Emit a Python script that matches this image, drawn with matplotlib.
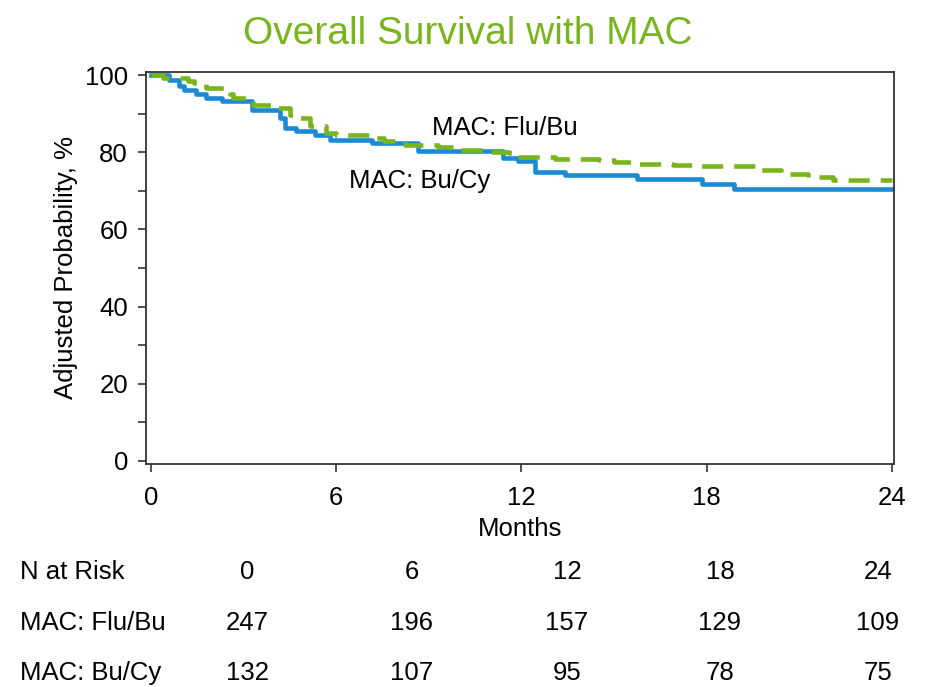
import numpy as np
import matplotlib.pyplot as plt

plt.rcParams['font.family'] = ['Liberation Sans', 'DejaVu Sans']

# step curves (months, adjusted probability %)
t_flubu = [0, 0.39, 1.2, 1.4, 1.78, 2.56, 2.66, 3.3, 3.92, 4.5, 4.76, 5.15, 5.67, 6.0,
           7.25, 7.55, 8.23, 9.3, 9.85, 10.9, 11.6, 11.85, 13.1, 14.5, 15.0, 15.8,
           16.9, 17.6, 19.56, 20.4, 21.3, 22.1, 24.0]
s_flubu = [100, 99.2, 98.4, 97.9, 96.6, 95.1, 94.0, 92.2, 91.5, 89.6, 88.9, 86.8, 85.0, 84.5,
           83.6, 83.0, 81.9, 81.4, 80.6, 80.0, 79.7, 78.8, 78.4, 78.0, 77.5, 76.9,
           76.7, 76.4, 75.4, 74.5, 73.6, 72.9, 72.9]

t_bucy = [0, 0.6, 0.9, 1.07, 1.46, 1.78, 2.3, 3.27, 4.18, 4.34, 4.7, 5.3, 5.8, 7.16,
          8.65, 11.4, 11.9, 12.44, 13.4, 15.74, 17.85, 18.9, 24.0]
s_bucy = [100, 98.7, 97.2, 96.1, 95.1, 94.0, 93.3, 90.9, 88.9, 86.3, 85.5, 84.5, 83.2, 82.4,
          80.3, 78.5, 77.7, 74.9, 74.1, 73.2, 71.9, 70.4, 70.4]

risk_times = ['0', '6', '12', '18', '24']
risk_flubu = [247, 196, 157, 129, 109]
risk_bucy = [132, 107, 95, 78, 75]

blue = '#1a8ad4'
green = '#78b41c'

fig = plt.figure(figsize=(9.25, 6.87), dpi=100)
ax = fig.add_axes([0.1578, 0.3246, 0.8086, 0.571])

ax.step(t_bucy, s_bucy, where='post', color=blue, lw=3.3)
ax.step(t_flubu, s_flubu, where='post', color=green, lw=3.3, dashes=(4.6, 2.4))

ax.text(11.47, 86.3, 'MAC: Flu/Bu', fontsize=18.5, ha='center', va='center')
ax.text(8.71, 72.6, 'MAC: Bu/Cy', fontsize=18.5, ha='center', va='center')

ax.set_xlim(-0.16, 24.07)
ax.set_ylim(-0.8, 100.9)
ax.set_xticks([0, 6, 12, 18, 24])
ax.set_yticks([0, 20, 40, 60, 80, 100])
ax.set_yticks([10, 30, 50, 70, 90], minor=True)
ax.tick_params(axis='both', which='both', direction='out', length=6, width=1.2,
               color='#333333', labelsize=18.5)
ax.tick_params(axis='x', pad=10)
ax.tick_params(axis='y', pad=7)
for sp in ax.spines.values():
    sp.set_color('#333333')
    sp.set_linewidth(1.3)

ax.set_xlabel('Months', fontsize=18.5, labelpad=5)
ax.set_ylabel('Adjusted Probability, %', fontsize=18.5, labelpad=5)

fig.text(0.506, 0.951, 'Overall Survival with MAC', fontsize=28, color=green,
         ha='center', va='center')

# numbers at risk table
col_x = [247, 412, 567, 720, 878]
row_y = [572, 623, 673]
rows = [('N at Risk', risk_times), ('MAC: Flu/Bu', risk_flubu), ('MAC: Bu/Cy', risk_bucy)]
for (label, vals), yy in zip(rows, row_y):
    fy = 1 - yy / 687
    fig.text(20 / 925, fy, label, fontsize=18.5, ha='left', va='center')
    for xx, v in zip(col_x, vals):
        fig.text(xx / 925, fy, str(v), fontsize=18.5, ha='center', va='center')

fig.savefig('out.png', dpi=100)
